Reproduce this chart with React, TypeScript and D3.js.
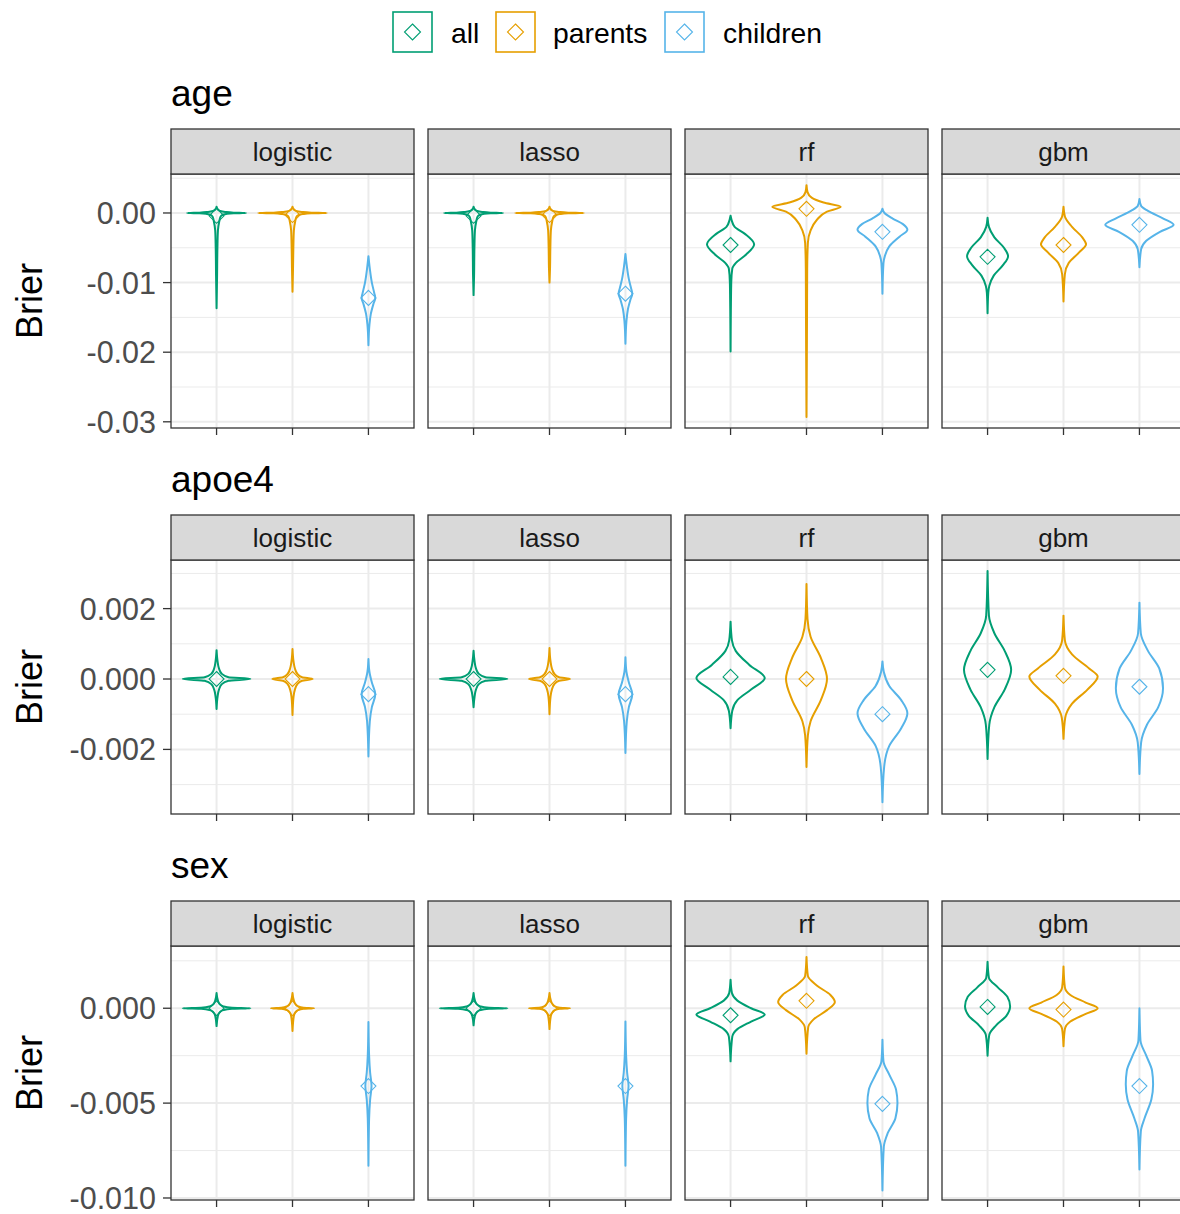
import React from "react";
import * as d3 from "d3";

type Knot = [number, number];

const methods = ["logistic", "lasso", "rf", "gbm"];
const groups = ["all", "parents", "children"];
const groupColors = ["#009E73", "#E69F00", "#56B4E9"];
const outcomes = ["age", "apoe4", "sex"];

// y-axis limits (data range incl. expansion) per outcome row
const yDomains: [number, number][] = [
  [-0.03089, 0.0056],
  [-0.003835, 0.003381],
  [-0.010106, 0.00328],
];
const majorTicks = [
  [0, -0.01, -0.02, -0.03],
  [0.002, 0, -0.002],
  [0, -0.005, -0.01],
];
const majorTickLabels = [
  ["0.00", "-0.01", "-0.02", "-0.03"],
  ["0.002", "0.000", "-0.002"],
  ["0.000", "-0.005", "-0.010"],
];
const minorTicks = [
  [0.005, -0.005, -0.015, -0.025],
  [0.003, 0.001, -0.001, -0.003],
  [0.0025, -0.0025, -0.0075],
];

// violin profiles: [Brier value, relative half-width], per method -> [all, parents, children]
const ageViolins: Knot[][][] = [
  [
    [[0.0009, 0], [0.0005, 0.04], [0.0003, 0.1], [0.00015, 0.25], [0.00005, 0.5], [0, 0.86], [-0.00005, 0.5], [-0.00015, 0.28], [-0.0003, 0.16], [-0.0006, 0.11], [-0.0012, 0.08], [-0.0025, 0.04], [-0.005, 0.025], [-0.009, 0.015], [-0.0137, 0]],
    [[0.0009, 0], [0.0005, 0.04], [0.0003, 0.1], [0.00015, 0.27], [0.00005, 0.55], [0, 1.0], [-0.00005, 0.55], [-0.00015, 0.3], [-0.0003, 0.17], [-0.0006, 0.11], [-0.0012, 0.08], [-0.0025, 0.04], [-0.005, 0.025], [-0.008, 0.015], [-0.0113, 0]],
    [[-0.0062, 0], [-0.008, 0.04], [-0.01, 0.1], [-0.0115, 0.17], [-0.0122, 0.2], [-0.013, 0.15], [-0.0145, 0.07], [-0.016, 0.03], [-0.019, 0]],
  ],
  [
    [[0.0009, 0], [0.0005, 0.04], [0.0003, 0.1], [0.00015, 0.25], [0.00005, 0.5], [0, 0.86], [-0.00005, 0.5], [-0.00015, 0.28], [-0.0003, 0.16], [-0.0006, 0.11], [-0.0012, 0.08], [-0.0025, 0.04], [-0.005, 0.025], [-0.009, 0.015], [-0.0118, 0]],
    [[0.0009, 0], [0.0005, 0.04], [0.0003, 0.1], [0.00015, 0.27], [0.00005, 0.55], [0, 1.0], [-0.00005, 0.55], [-0.00015, 0.3], [-0.0003, 0.17], [-0.0006, 0.11], [-0.0012, 0.08], [-0.0025, 0.04], [-0.005, 0.025], [-0.008, 0.015], [-0.01, 0]],
    [[-0.0059, 0], [-0.0076, 0.04], [-0.0095, 0.1], [-0.0109, 0.17], [-0.0116, 0.2], [-0.0124, 0.15], [-0.0139, 0.07], [-0.0155, 0.03], [-0.0188, 0]],
  ],
  [
    [[-0.0004, 0], [-0.001, 0.03], [-0.002, 0.12], [-0.003, 0.42], [-0.0045, 0.69], [-0.006, 0.45], [-0.0072, 0.15], [-0.008, 0.05], [-0.01, 0.02], [-0.0199, 0]],
    [[0.004, 0], [0.003, 0.03], [0.0022, 0.15], [0.0015, 0.5], [0.0009, 1.0], [0.0002, 0.6], [-0.001, 0.3], [-0.0025, 0.12], [-0.0043, 0.04], [-0.008, 0.02], [-0.015, 0.015], [-0.0293, 0]],
    [[0.0006, 0], [0.0, 0.06], [-0.0008, 0.3], [-0.0016, 0.6], [-0.0024, 0.73], [-0.0034, 0.5], [-0.0048, 0.2], [-0.0062, 0.07], [-0.0072, 0.03], [-0.0116, 0]],
  ],
  [
    [[-0.0007, 0], [-0.002, 0.04], [-0.0035, 0.2], [-0.005, 0.48], [-0.0062, 0.6], [-0.0075, 0.45], [-0.009, 0.18], [-0.0105, 0.05], [-0.0115, 0.02], [-0.0144, 0]],
    [[0.0009, 0], [-0.0005, 0.04], [-0.002, 0.25], [-0.0035, 0.55], [-0.0045, 0.66], [-0.0057, 0.45], [-0.0072, 0.15], [-0.0088, 0.04], [-0.0127, 0]],
    [[0.002, 0], [0.001, 0.05], [0.0003, 0.25], [-0.0008, 0.7], [-0.0017, 1.0], [-0.0027, 0.6], [-0.004, 0.2], [-0.0052, 0.05], [-0.0078, 0]],
  ],
];

const apoe4Violins: Knot[][][] = [
  [
    [[0.00082, 0], [0.0005, 0.03], [0.0003, 0.07], [0.00015, 0.15], [0.00005, 0.35], [0, 0.99], [-0.00005, 0.35], [-0.00015, 0.15], [-0.0003, 0.07], [-0.0005, 0.03], [-0.00085, 0]],
    [[0.00085, 0], [0.0005, 0.03], [0.0003, 0.07], [0.00015, 0.14], [0.00005, 0.28], [0, 0.59], [-0.00005, 0.28], [-0.00015, 0.14], [-0.0003, 0.07], [-0.0005, 0.03], [-0.00102, 0]],
    [[0.00057, 0], [0.0002, 0.03], [-0.0001, 0.1], [-0.00043, 0.2], [-0.0008, 0.1], [-0.0012, 0.04], [-0.0022, 0]],
  ],
  [
    [[0.0008, 0], [0.0005, 0.03], [0.0003, 0.07], [0.00015, 0.15], [0.00005, 0.35], [0, 0.99], [-0.00005, 0.35], [-0.00015, 0.15], [-0.0003, 0.07], [-0.0005, 0.03], [-0.0008, 0]],
    [[0.00088, 0], [0.0005, 0.03], [0.0003, 0.07], [0.00015, 0.14], [0.00005, 0.28], [0, 0.6], [-0.00005, 0.28], [-0.00015, 0.14], [-0.0003, 0.07], [-0.0005, 0.03], [-0.001, 0]],
    [[0.00062, 0], [0.0002, 0.03], [-0.0001, 0.1], [-0.00043, 0.2], [-0.0008, 0.1], [-0.0012, 0.04], [-0.0021, 0]],
  ],
  [
    [[0.00163, 0], [0.0011, 0.04], [0.0008, 0.15], [0.0004, 0.55], [0.00003, 1.0], [-0.0003, 0.6], [-0.0006, 0.2], [-0.0009, 0.05], [-0.0014, 0]],
    [[0.0027, 0], [0.0017, 0.03], [0.0012, 0.12], [0.0006, 0.42], [0, 0.6], [-0.0006, 0.42], [-0.0012, 0.12], [-0.0016, 0.04], [-0.0025, 0]],
    [[0.0005, 0], [0.0002, 0.04], [-0.0002, 0.2], [-0.0006, 0.55], [-0.00097, 0.73], [-0.0014, 0.55], [-0.0019, 0.2], [-0.0025, 0.05], [-0.0035, 0]],
  ],
  [
    [[0.00307, 0], [0.0018, 0.04], [0.0013, 0.2], [0.0008, 0.5], [0.00026, 0.69], [-0.0003, 0.5], [-0.0008, 0.2], [-0.0013, 0.05], [-0.00227, 0]],
    [[0.0018, 0], [0.0011, 0.04], [0.0007, 0.25], [0.0003, 0.75], [0.00007, 1.0], [-0.0003, 0.7], [-0.0007, 0.25], [-0.0011, 0.05], [-0.0017, 0]],
    [[0.00217, 0], [0.0013, 0.04], [0.0008, 0.25], [0.0003, 0.58], [-0.00026, 0.69], [-0.0008, 0.55], [-0.0013, 0.22], [-0.0018, 0.05], [-0.0027, 0]],
  ],
];

const sexViolins: Knot[][][] = [
  [
    [[0.0008, 0], [0.0004, 0.04], [0.0002, 0.1], [0.0001, 0.2], [0.00003, 0.45], [0, 0.99], [-0.00003, 0.45], [-0.0001, 0.2], [-0.0002, 0.1], [-0.0004, 0.04], [-0.00094, 0]],
    [[0.0008, 0], [0.0004, 0.04], [0.0002, 0.09], [0.0001, 0.16], [0.00003, 0.32], [0, 0.63], [-0.00003, 0.32], [-0.0001, 0.16], [-0.0002, 0.09], [-0.0004, 0.04], [-0.0012, 0]],
    [[-0.00072, 0], [-0.0025, 0.02], [-0.0034, 0.05], [-0.0041, 0.09], [-0.0048, 0.05], [-0.0058, 0.02], [-0.0083, 0]],
  ],
  [
    [[0.0008, 0], [0.0004, 0.04], [0.0002, 0.1], [0.0001, 0.2], [0.00003, 0.45], [0, 0.99], [-0.00003, 0.45], [-0.0001, 0.2], [-0.0002, 0.1], [-0.0004, 0.04], [-0.0009, 0]],
    [[0.0008, 0], [0.0004, 0.04], [0.0002, 0.09], [0.0001, 0.15], [0.00003, 0.3], [0, 0.6], [-0.00003, 0.3], [-0.0001, 0.15], [-0.0002, 0.09], [-0.0004, 0.04], [-0.0011, 0]],
    [[-0.0007, 0], [-0.0025, 0.02], [-0.0034, 0.05], [-0.0041, 0.09], [-0.0048, 0.05], [-0.0058, 0.02], [-0.0083, 0]],
  ],
  [
    [[0.0015, 0], [0.0008, 0.04], [0.0004, 0.2], [0.0, 0.6], [-0.00033, 1.0], [-0.0007, 0.6], [-0.0011, 0.2], [-0.0015, 0.05], [-0.0028, 0]],
    [[0.0027, 0], [0.0017, 0.04], [0.0012, 0.3], [0.0007, 0.7], [0.00033, 0.83], [-0.0001, 0.6], [-0.0006, 0.2], [-0.001, 0.05], [-0.0024, 0]],
    [[-0.00166, 0], [-0.0028, 0.03], [-0.0035, 0.2], [-0.0043, 0.4], [-0.005, 0.44], [-0.0058, 0.38], [-0.0066, 0.15], [-0.0073, 0.04], [-0.0096, 0]],
  ],
  [
    [[0.00245, 0], [0.0016, 0.04], [0.0011, 0.3], [0.0006, 0.58], [0.0001, 0.66], [-0.0004, 0.55], [-0.0009, 0.25], [-0.0014, 0.05], [-0.0025, 0]],
    [[0.0022, 0], [0.0011, 0.04], [0.0007, 0.2], [0.0003, 0.65], [0, 1.0], [-0.0003, 0.65], [-0.0007, 0.2], [-0.0011, 0.04], [-0.002, 0]],
    [[0, 0], [-0.0017, 0.03], [-0.0025, 0.2], [-0.0033, 0.37], [-0.004, 0.4], [-0.0048, 0.35], [-0.0058, 0.15], [-0.0065, 0.04], [-0.0085, 0]],
  ],
];

// mean markers per method -> [all, parents, children]
const ageMeans = [
  [-0.0004, -0.0003, -0.0122],
  [-0.0004, -0.0003, -0.0116],
  [-0.0046, 0.0006, -0.0027],
  [-0.0063, -0.0046, -0.0017],
];
const apoe4Means = [
  [0, 0, -0.00043],
  [0, 0, -0.00043],
  [0.00006, 0, -0.001],
  [0.00026, 0.00009, -0.00022],
];
const sexMeans = [
  [0, 0, -0.0041],
  [0, 0, -0.0041],
  [-0.00037, 0.00039, -0.00504],
  [0.00007, -0.00007, -0.0041],
];

const allViolins = [ageViolins, apoe4Violins, sexViolins];
const allMeans = [ageMeans, apoe4Means, sexMeans];

const FONT = "'Liberation Sans', Arial, sans-serif";
const W = 1180;
const H = 1214;
const panelLeft = 171;
const panelW = 243;
const panelGap = 14;
const rowTop = 129;
const rowStep = 386;
const stripH = 45;
const panelH = 254;

function Diamond({ x, y, r, color }: { x: number; y: number; r: number; color: string }) {
  return (
    <path
      d={`M${x},${y - r}L${x + r},${y}L${x},${y + r}L${x - r},${y}Z`}
      fill="none"
      stroke={color}
      strokeWidth={1.1}
    />
  );
}

export default function App() {
  const legendItems = [
    { x: 393, tx: 451 },
    { x: 496, tx: 553 },
    { x: 665, tx: 723 },
  ];
  return (
    <svg
      width={W}
      height={H}
      style={{ position: "absolute", left: 0, top: 0, background: "#fff" }}
      fontFamily={FONT}
    >
      <rect x={0} y={0} width={W} height={H} fill="#fff" />
      {/* legend */}
      {groups.map((g, i) => (
        <g key={g}>
          <rect x={legendItems[i].x} y={12} width={39} height={40} fill="#fff" stroke={groupColors[i]} strokeWidth={1.6} />
          <Diamond x={legendItems[i].x + 19.5} y={32} r={8} color={groupColors[i]} />
          <text x={legendItems[i].tx} y={43} fontSize={28.3} fill="#000">
            {g}
          </text>
        </g>
      ))}
      {outcomes.map((outcome, r) => {
        const sTop = rowTop + r * rowStep;
        const pTop = sTop + stripH;
        const pBot = pTop + panelH;
        const y = d3.scaleLinear().domain(yDomains[r]).range([pBot, pTop]);
        return (
          <g key={outcome}>
            <text x={panelLeft} y={sTop - 23} fontSize={37} fill="#000">
              {outcome}
            </text>
            <text
              transform={`translate(42,${(pTop + pBot) / 2}) rotate(-90)`}
              textAnchor="middle"
              fontSize={36}
              fill="#000"
            >
              Brier
            </text>
            {majorTicks[r].map((t, k) => (
              <g key={k}>
                <line x1={163} x2={panelLeft} y1={y(t)} y2={y(t)} stroke="#333" strokeWidth={1.3} />
                <text x={156} y={y(t)} dy="0.36em" textAnchor="end" fontSize={30.5} fill="#4D4D4D">
                  {majorTickLabels[r][k]}
                </text>
              </g>
            ))}
            {methods.map((m, c) => {
              const px = panelLeft + c * (panelW + panelGap);
              const x = d3
                .scalePoint<string>()
                .domain(groups)
                .range([px, px + panelW])
                .padding(0.6);
              const step = x.step();
              const half = 0.45 * step;
              return (
                <g key={m}>
                  <rect x={px} y={pTop} width={panelW} height={panelH} fill="#fff" />
                  {minorTicks[r].map((t, k) => (
                    <line key={"mn" + k} x1={px} x2={px + panelW} y1={y(t)} y2={y(t)} stroke="#EBEBEB" strokeWidth={1} />
                  ))}
                  {majorTicks[r].map((t, k) => (
                    <line key={"mj" + k} x1={px} x2={px + panelW} y1={y(t)} y2={y(t)} stroke="#EBEBEB" strokeWidth={2} />
                  ))}
                  {groups.map((g) => (
                    <line key={"v" + g} x1={x(g)!} x2={x(g)!} y1={pTop} y2={pBot} stroke="#EBEBEB" strokeWidth={2} />
                  ))}
                  {groups.map((g, gi) => {
                    const cx = x(g)!;
                    const area = d3
                      .area<Knot>()
                      .curve(d3.curveMonotoneY)
                      .y((d) => y(d[0]))
                      .x0((d) => cx - d[1] * half)
                      .x1((d) => cx + d[1] * half);
                    return (
                      <g key={"vi" + g}>
                        <path
                          d={area(allViolins[r][c][gi]) || ""}
                          fill="none"
                          stroke={groupColors[gi]}
                          strokeWidth={2}
                          strokeLinejoin="round"
                        />
                        <Diamond x={cx} y={y(allMeans[r][c][gi])} r={7.5} color={groupColors[gi]} />
                      </g>
                    );
                  })}
                  <rect x={px} y={pTop} width={panelW} height={panelH} fill="none" stroke="#333" strokeWidth={1.3} />
                  {groups.map((g) => (
                    <line key={"xt" + g} x1={x(g)!} x2={x(g)!} y1={pBot} y2={pBot + 7} stroke="#333" strokeWidth={1.3} />
                  ))}
                  <rect x={px} y={sTop} width={panelW} height={stripH} fill="#D9D9D9" stroke="#333" strokeWidth={1.3} />
                  <text x={px + panelW / 2} y={sTop + stripH / 2} dy="0.36em" textAnchor="middle" fontSize={26} fill="#1A1A1A">
                    {m}
                  </text>
                </g>
              );
            })}
          </g>
        );
      })}
    </svg>
  );
}
